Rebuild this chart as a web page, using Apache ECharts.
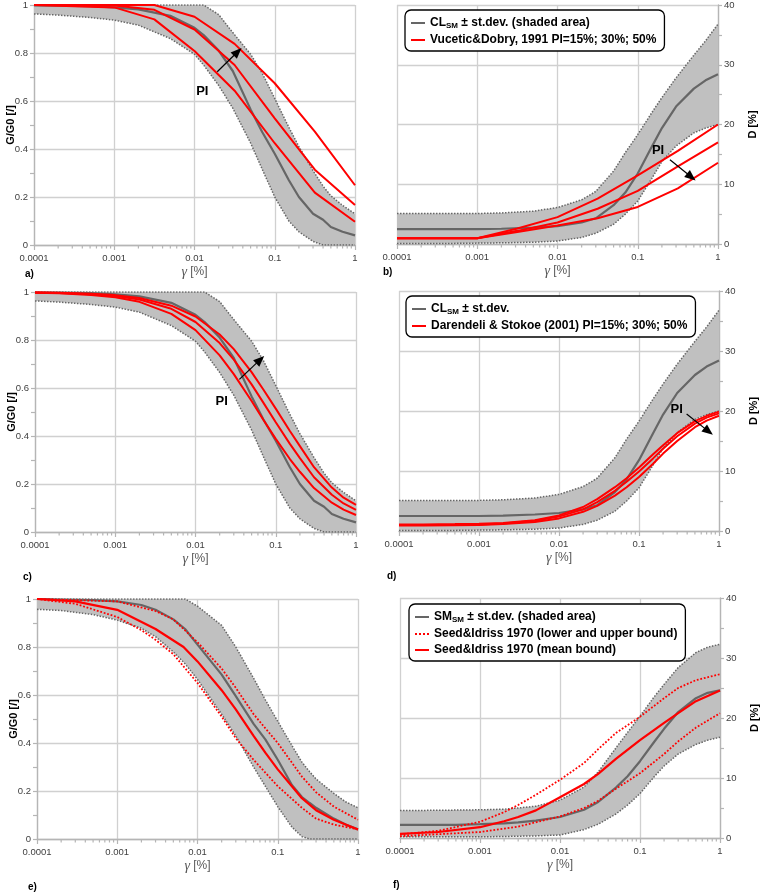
<!DOCTYPE html>
<html><head><meta charset="utf-8">
<script src="https://cdn.jsdelivr.net/npm/echarts@6/dist/echarts.min.js"></script>
<style>html,body{margin:0;padding:0;background:#fff}#c{width:760px;height:894px}</style>
</head><body><div id="c"></div>
<script>
// ---------------- DATA ----------------
const xTickLabels = ['0.0001', '0.001', '0.01', '0.1', '1'];
const minorTickMultipliers = [2, 3, 4, 5, 6, 7, 8, 9];

// CL (clay) band, G/G0 (panels a, c)
const clGX     = [0.0001, 0.0002, 0.0005, 0.001, 0.002, 0.005, 0.01, 0.013, 0.02, 0.03, 0.05, 0.07, 0.1, 0.15, 0.2, 0.3, 0.4, 0.5, 0.7, 1];
const clGUpper = [1, 1, 1, 1, 1, 1, 1, 1, 0.96, 0.885, 0.795, 0.715, 0.61, 0.49, 0.41, 0.31, 0.245, 0.205, 0.165, 0.13];
const clGLower = [0.963, 0.958, 0.948, 0.937, 0.916, 0.86, 0.795, 0.75, 0.665, 0.57, 0.425, 0.315, 0.2, 0.1, 0.055, 0.015, 0, 0, 0, 0];
const clGMean  = [0.998, 0.997, 0.995, 0.99, 0.982, 0.955, 0.905, 0.875, 0.81, 0.725, 0.565, 0.47, 0.38, 0.27, 0.2, 0.13, 0.105, 0.075, 0.055, 0.04];

// CL band, D (panels b, d)
const clDX     = [0.0001, 0.0002, 0.0005, 0.001, 0.002, 0.005, 0.01, 0.02, 0.03, 0.05, 0.07, 0.1, 0.15, 0.2, 0.3, 0.5, 0.7, 1];
const clDUpper = [5.1, 5.1, 5.1, 5.1, 5.2, 5.5, 6.1, 7.4, 8.8, 12.2, 15.3, 18.3, 22.0, 24.5, 27.8, 31.6, 34.0, 36.8];
const clDLower = [0.1, 0.1, 0.1, 0.15, 0.2, 0.3, 0.5, 1.1, 1.8, 3.3, 5.0, 7.2, 11.0, 13.8, 16.4, 18.6, 19.4, 20.0];
const clDMean  = [2.5, 2.5, 2.5, 2.5, 2.55, 2.75, 3.0, 3.6, 4.3, 6.5, 8.6, 11.8, 16.3, 19.4, 23.0, 26.0, 27.4, 28.4];

// Vucetic & Dobry 1991 (panels a, b)
const vdX    = [0.0001, 0.001, 0.00316, 0.01, 0.0316, 0.1, 0.316, 1];
const vdG15  = [1, 0.99, 0.94, 0.808, 0.643, 0.424, 0.218, 0.097];
const vdG30  = [1, 0.998, 0.98, 0.898, 0.75, 0.528, 0.314, 0.167];
const vdG50  = [1, 1, 1, 0.951, 0.838, 0.674, 0.472, 0.249];
const vdD15  = [0.95, 0.95, 2.6, 4.5, 7.6, 11.5, 15.6, 20.0];
const vdD30  = [0.95, 0.95, 2.2, 3.6, 5.9, 8.9, 13.0, 17.0];
const vdD50  = [0.95, 0.95, 2.0, 3.1, 4.3, 6.2, 9.3, 13.6];

// Darendeli & Stokoe 2001 (panels c, d)
const dsX    = [0.0001, 0.0002, 0.0005, 0.001, 0.002, 0.005, 0.01, 0.02, 0.03, 0.05, 0.07, 0.1, 0.15, 0.2, 0.3, 0.5, 0.7, 1];
const dsG15  = [0.997, 0.995, 0.988, 0.978, 0.959, 0.909, 0.841, 0.736, 0.658, 0.546, 0.468, 0.388, 0.304, 0.251, 0.183, 0.122, 0.093, 0.071];
const dsG30  = [0.998, 0.996, 0.991, 0.983, 0.969, 0.93, 0.875, 0.787, 0.718, 0.615, 0.539, 0.457, 0.367, 0.308, 0.228, 0.155, 0.119, 0.092];
const dsG50  = [0.998, 0.997, 0.993, 0.987, 0.975, 0.943, 0.898, 0.823, 0.762, 0.666, 0.594, 0.514, 0.421, 0.358, 0.27, 0.185, 0.143, 0.113];
const dsD15  = [1.1, 1.1, 1.15, 1.2, 1.35, 1.8, 2.6, 4.0, 5.3, 7.3, 8.8, 10.6, 12.8, 14.3, 16.3, 18.3, 19.2, 19.9];
const dsD30  = [1.0, 1.0, 1.05, 1.1, 1.25, 1.7, 2.4, 3.6, 4.8, 6.7, 8.2, 9.9, 12.1, 13.7, 15.8, 17.9, 18.9, 19.6];
const dsD50  = [0.9, 0.9, 0.95, 1.0, 1.15, 1.5, 2.1, 3.2, 4.2, 5.9, 7.3, 9.0, 11.2, 12.9, 15.0, 17.3, 18.4, 19.2];

// SM (silty sand) band, G/G0 (panel e)
const smGX     = [0.0001, 0.0002, 0.0005, 0.001, 0.002, 0.003, 0.005, 0.007, 0.01, 0.02, 0.03, 0.05, 0.07, 0.1, 0.15, 0.2, 0.25, 0.3, 0.5, 0.7, 1];
const smGUpper = [1, 1, 1, 1, 1, 1, 1, 1, 0.97, 0.89, 0.8, 0.67, 0.58, 0.49, 0.39, 0.32, 0.28, 0.25, 0.19, 0.155, 0.13];
const smGLower = [0.957, 0.952, 0.935, 0.912, 0.878, 0.843, 0.78, 0.73, 0.665, 0.52, 0.43, 0.3, 0.22, 0.135, 0.05, 0.01, 0, 0, 0, 0, 0];
const smGMean  = [1.0, 0.998, 0.995, 0.99, 0.975, 0.955, 0.915, 0.875, 0.81, 0.685, 0.595, 0.48, 0.415, 0.33, 0.225, 0.175, 0.15, 0.13, 0.085, 0.06, 0.04];

// SM band, D (panel f)
const smDX     = [0.0001, 0.0002, 0.0005, 0.001, 0.002, 0.003, 0.005, 0.01, 0.02, 0.03, 0.05, 0.07, 0.1, 0.15, 0.2, 0.3, 0.5, 0.7, 1];
const smDUpper = [4.6, 4.6, 4.65, 4.7, 4.8, 5.0, 5.3, 6.3, 8.5, 11.0, 15.0, 17.6, 20.3, 23.5, 25.6, 28.4, 30.9, 31.8, 32.3];
const smDLower = [0.2, 0.2, 0.2, 0.2, 0.25, 0.3, 0.35, 0.5, 1.4, 2.3, 4.0, 5.5, 7.4, 10.2, 12.0, 14.0, 15.6, 16.3, 16.8];
const smDMean  = [2.2, 2.2, 2.2, 2.3, 2.45, 2.6, 2.9, 3.5, 4.7, 6.0, 8.4, 10.3, 12.8, 16.0, 18.2, 21.0, 23.3, 24.2, 24.6];

// Seed & Idriss 1970 (panels e, f)
const siGMeanX  = [0.0001, 0.0003, 0.001, 0.003, 0.0067, 0.01, 0.02, 0.03, 0.05, 0.07, 0.1, 0.15, 0.2, 0.3, 0.5, 1];
const siGMean   = [1, 0.99, 0.955, 0.875, 0.8, 0.74, 0.62, 0.54, 0.43, 0.36, 0.29, 0.22, 0.17, 0.12, 0.08, 0.04];
const siGUpperX = [0.0001, 0.001, 0.003, 0.005, 0.01, 0.02, 0.03, 0.05, 0.1, 0.2, 0.3, 0.5, 1];
const siGUpper  = [1, 0.99, 0.95, 0.915, 0.82, 0.71, 0.63, 0.52, 0.4, 0.26, 0.195, 0.135, 0.08];
const siGLowerX = [0.0001, 0.0003, 0.001, 0.002, 0.003, 0.005, 0.01, 0.02, 0.03, 0.05, 0.1, 0.2, 0.3, 0.5, 1];
const siGLower  = [1, 0.98, 0.925, 0.87, 0.83, 0.77, 0.65, 0.51, 0.42, 0.33, 0.22, 0.13, 0.085, 0.06, 0.04];
const siDMeanX  = [0.0001, 0.0003, 0.001, 0.002, 0.003, 0.005, 0.01, 0.02, 0.03, 0.05, 0.1, 0.2, 0.3, 0.5, 1];
const siDMean   = [0.7, 1.0, 1.8, 2.8, 3.5, 4.6, 6.8, 9.0, 10.7, 13.2, 16.3, 19.2, 20.8, 22.8, 24.6];
const siDUpperX = [0.0001, 0.0003, 0.001, 0.002, 0.003, 0.005, 0.01, 0.02, 0.03, 0.05, 0.1, 0.2, 0.3, 0.5, 1];
const siDUpper  = [0.6, 1.2, 2.7, 4.3, 5.5, 7.2, 9.7, 12.5, 14.8, 17.5, 20.2, 23.3, 25.0, 26.3, 27.3];
const siDLowerX = [0.0001, 0.001, 0.003, 0.01, 0.02, 0.03, 0.05, 0.1, 0.2, 0.3, 0.5, 1];
const siDLower  = [0.3, 1.0, 1.9, 3.6, 5.0, 6.2, 8.2, 10.8, 14.0, 16.1, 18.4, 20.8];

// Series names (legend texts)
const nameCLb = 'CL_SM ± st.dev. (shaded area)';
const nameVD  = 'Vucetic&Dobry, 1991 PI=15%; 30%; 50%';
const nameCLd = 'CL_SM ± st.dev.';
const nameDS  = 'Darendeli & Stokoe (2001) PI=15%; 30%; 50%';
const nameSMf = 'SM_SM ± st.dev. (shaded area)';
const nameSIb = 'Seed&Idriss 1970 (lower and upper bound)';
const nameSIm = 'Seed&Idriss 1970 (mean bound)';

// ---------------- STYLE ----------------
const BAND = '#c0c0c0', BOUND = '#666666', MEAN = '#666666', RED = '#ff0000';
const GRIDC = '#d0d0d0', AXC = '#b5b5b5', LABC = '#404040';
const FONT = 'Liberation Sans';

const grids = [
  {left: 34,  top: 5,   width: 321, height: 240},
  {left: 397, top: 5,   width: 321, height: 239},
  {left: 35,  top: 292, width: 321, height: 240},
  {left: 399, top: 291, width: 320, height: 240},
  {left: 37,  top: 599, width: 321, height: 240},
  {left: 400, top: 598, width: 320, height: 240}
];
const isD = [false, true, false, true, false, true];

// minor tick values on the log axis (2..9 x 10^k)
const minorVals = [];
[0.0001, 0.001, 0.01, 0.1].forEach(b => minorTickMultipliers.forEach(m => minorVals.push(b * m)));

const xAxes = [], yAxes = [];
grids.forEach((g, i) => {
  xAxes.push({
    type: 'log', logBase: 10, gridIndex: i, min: 0.0001, max: 1, position: 'bottom',
    name: '{g|γ} [%]', nameLocation: 'middle', nameGap: 20, nameMoveOverlap: false,
    nameTextStyle: {color: '#595959', fontSize: 12, fontFamily: FONT,
      rich: {g: {fontFamily: 'Liberation Serif', fontStyle: 'italic', fontSize: 14, color: '#595959'}}},
    axisLine: {show: true, onZero: false, lineStyle: {color: AXC, width: 1.3}},
    axisTick: {show: true, length: 5, lineStyle: {color: AXC, width: 1.2}},
    minorTick: {show: false},
    axisLabel: {margin: 8, color: LABC, fontSize: 9.5, fontFamily: FONT,
      formatter: v => xTickLabels[Math.round(Math.log10(v)) + 4]},
    splitLine: {show: true, lineStyle: {color: GRIDC, width: 1.3}}
  });
  const d = isD[i];
  yAxes.push({
    type: 'value', gridIndex: i, min: 0, max: d ? 40 : 1, interval: d ? 10 : 0.2,
    position: d ? 'right' : 'left',
    name: d ? 'D [%]' : 'G/G0 [/]', nameLocation: 'middle', nameGap: d ? 29 : 18, nameMoveOverlap: false,
    nameTextStyle: {color: '#000', fontWeight: 'bold', fontSize: 11, fontFamily: FONT},
    axisLine: {show: true, onZero: false, lineStyle: {color: AXC, width: 1.3}},
    axisTick: {show: true, length: 4, lineStyle: {color: AXC, width: 1.2}},
    minorTick: {show: true, splitNumber: 2, length: 4, lineStyle: {color: AXC, width: 1.2}},
    axisLabel: {margin: 6, color: LABC, fontSize: 9.5, fontFamily: FONT},
    splitLine: {show: true, lineStyle: {color: GRIDC, width: 1.3}}
  });
});

const pairs = (xs, ys) => xs.map((x, k) => [x, ys[k]]);
function line(g, name, xs, ys, color, width, type, extra) {
  return Object.assign({
    type: 'line', name: name, xAxisIndex: g, yAxisIndex: g, data: pairs(xs, ys),
    symbol: 'none', showSymbol: false, silent: true, animation: false,
    emphasis: {disabled: true},
    lineStyle: {color: color, width: width, type: type || 'solid'},
    itemStyle: {color: color}
  }, extra || {});
}
function band(g, tag, xs, up, lo) {
  return [
    {type: 'custom', name: 'band ' + tag, xAxisIndex: g, yAxisIndex: g, data: [[0.01, 0.5]],
     silent: true, animation: false, z: 1,
     renderItem: (p, api) => {
       const pts = [];
       for (let k = 0; k < xs.length; k++) pts.push(api.coord([xs[k], up[k]]));
       for (let k = xs.length - 1; k >= 0; k--) pts.push(api.coord([xs[k], lo[k]]));
       return {type: 'polygon', shape: {points: pts}, style: {fill: BAND, stroke: null}};
     }},
    line(g, 'upper ' + tag, xs, up, BOUND, 1.5, 'dotted'),
    line(g, 'lower ' + tag, xs, lo, BOUND, 1.5, 'dotted')
  ];
}
// minor ticks of the logarithmic x axis, placed through the axis scale
function minorTicks(g) {
  return {type: 'custom', name: 'minor ticks ' + g, xAxisIndex: g, yAxisIndex: g, data: [[0.01, 0]],
    silent: true, animation: false, clip: false, z: 3,
    renderItem: (p, api) => ({
      type: 'group',
      children: minorVals.map(v => {
        const c = api.coord([v, 0]);
        return {type: 'line', shape: {x1: c[0], y1: c[1], x2: c[0], y2: c[1] + 3.5},
                style: {stroke: AXC, lineWidth: 1.2}};
      })
    })};
}
function marks(arrowFrom, arrowTo, piAt) {
  return {
    markLine: {silent: true, animation: false, symbol: ['none', 'triangle'], symbolSize: [9, 11],
      lineStyle: {color: '#000', width: 1.2, type: 'solid'}, label: {show: false},
      data: [[{coord: arrowFrom}, {coord: arrowTo}]]},
    markPoint: {silent: true, animation: false, symbol: 'circle', symbolSize: 0.1,
      itemStyle: {color: 'rgba(0,0,0,0)'},
      label: {show: true, position: 'inside', formatter: 'PI', color: '#000', fontWeight: 'bold', fontSize: 13, fontFamily: FONT},
      data: [{coord: piAt}]}
  };
}

const series = [].concat(
  // a
  band(0, 'a', clGX, clGUpper, clGLower),
  [line(0, 'CL mean a', clGX, clGMean, MEAN, 2.2),
   line(0, 'VD a 15', vdX, vdG15, RED, 2, 'solid', marks([0.0192, 0.722], [0.0345, 0.805], [0.0125, 0.639])),
   line(0, 'VD a 30', vdX, vdG30, RED, 2),
   line(0, 'VD a 50', vdX, vdG50, RED, 2)],
  // b
  band(1, 'b', clDX, clDUpper, clDLower),
  [line(1, nameCLb, clDX, clDMean, MEAN, 2.2),
   line(1, nameVD, vdX, vdD15, RED, 2, 'solid', marks([0.252, 14.1], [0.465, 11.2], [0.179, 15.6])),
   line(1, nameVD, vdX, vdD30, RED, 2),
   line(1, nameVD, vdX, vdD50, RED, 2)],
  // c
  band(2, 'c', clGX, clGUpper, clGLower),
  [line(2, 'CL mean c', clGX, clGMean, MEAN, 2.2),
   line(2, 'DS c 15', dsX, dsG15, RED, 2, 'solid', marks([0.0352, 0.636], [0.064, 0.718], [0.0212, 0.543])),
   line(2, 'DS c 30', dsX, dsG30, RED, 2),
   line(2, 'DS c 50', dsX, dsG50, RED, 2)],
  // d
  band(3, 'd', clDX, clDUpper, clDLower),
  [line(3, nameCLd, clDX, clDMean, MEAN, 2.2),
   line(3, nameDS, dsX, dsD15, RED, 2, 'solid', marks([0.394, 19.5], [0.74, 16.6], [0.296, 20.2])),
   line(3, nameDS, dsX, dsD30, RED, 2),
   line(3, nameDS, dsX, dsD50, RED, 2)],
  // e
  band(4, 'e', smGX, smGUpper, smGLower),
  [line(4, 'SM mean e', smGX, smGMean, MEAN, 2.2),
   line(4, 'SI e upper', siGUpperX, siGUpper, RED, 1.8, 'dotted'),
   line(4, 'SI e lower', siGLowerX, siGLower, RED, 1.8, 'dotted'),
   line(4, 'SI e mean', siGMeanX, siGMean, RED, 2.2)],
  // f
  band(5, 'f', smDX, smDUpper, smDLower),
  [line(5, nameSMf, smDX, smDMean, MEAN, 2.2),
   line(5, nameSIb, siDUpperX, siDUpper, RED, 1.8, 'dotted'),
   line(5, nameSIb, siDLowerX, siDLower, RED, 1.8, 'dotted'),
   line(5, nameSIm, siDMeanX, siDMean, RED, 2.2)],
  [0, 1, 2, 3, 4, 5].map(minorTicks)
);

const legendCommon = {
  orient: 'vertical', backgroundColor: '#fff', borderColor: '#000', borderWidth: 1.3, borderRadius: 6,
  padding: [7, 8, 5, 5], itemGap: 4, itemWidth: 14, itemHeight: 10, selectedMode: false, z: 10,
  itemStyle: {opacity: 0},
  textStyle: {fontFamily: FONT, fontWeight: 'bold', fontSize: 12, color: '#000',
    rich: {b: {fontFamily: FONT, fontWeight: 'bold', fontSize: 12, color: '#000'},
           s: {fontFamily: FONT, fontWeight: 'bold', fontSize: 8, color: '#000', padding: [6, 0, 0, 0]}}},
  formatter: n => {
    const m = n.match(/^(\w\w)_SM(.*)$/);
    return m ? '{b|' + m[1] + '}{s|SM}{b|' + m[2] + '}' : '{b|' + n + '}';
  }
};

const labels = [['a)', 25, 269], ['b)', 383, 267], ['c)', 23, 572], ['d)', 387, 571], ['e)', 28, 882], ['f)', 393, 880]];

const option = {
  animation: false,
  backgroundColor: '#fff',
  textStyle: {fontFamily: FONT},
  grid: grids.map(g => Object.assign({containLabel: false, outerBoundsMode: 'none'}, g)),
  xAxis: xAxes,
  yAxis: yAxes,
  legend: [
    Object.assign({left: 405, top: 10, data: [nameCLb, nameVD]}, legendCommon),
    Object.assign({left: 406, top: 296, data: [nameCLd, nameDS]}, legendCommon),
    Object.assign({left: 409, top: 604, data: [nameSMf, nameSIb, nameSIm]}, legendCommon)
  ],
  graphic: labels.map(l => ({type: 'text', left: l[1], top: l[2], silent: true,
    style: {text: l[0], font: 'bold 10px ' + FONT, fill: '#000'}})),
  series: series
};

const chart = echarts.init(document.getElementById('c'), null, {renderer: 'canvas'});
chart.setOption(option);
</script></body></html>
